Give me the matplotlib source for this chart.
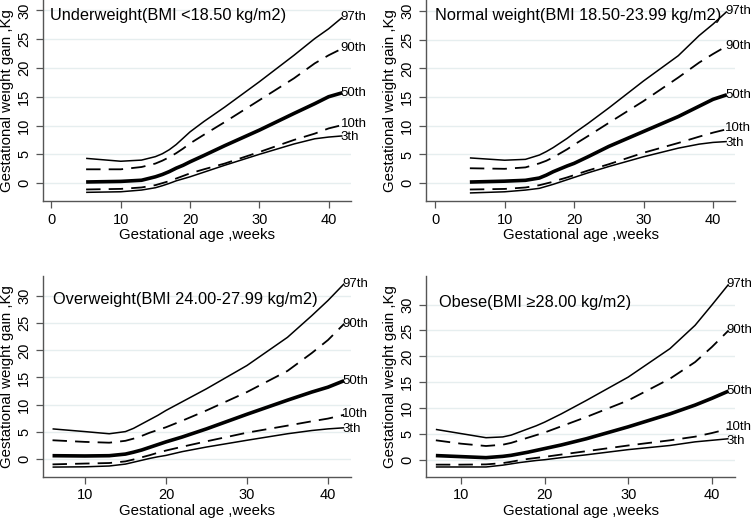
import numpy as np
import matplotlib.pyplot as plt

plt.rcParams['font.family'] = ['Liberation Sans', 'DejaVu Sans']

# read points of each percentile curve (weeks, kg)
weeks_a = [5, 10, 13, 15, 16, 17, 18, 19, 20, 22, 25, 30, 35, 38, 40, 42]
weeks_ow = [6, 10, 13, 15, 16, 17, 18, 19, 20, 22, 25, 30, 35, 38, 40, 42]
weeks_ob = [7, 10, 13, 15, 16, 17, 18, 19, 20, 22, 25, 30, 35, 38, 40, 42]

under_p97 = [4.3, 3.8, 4.0, 4.6, 5.1, 5.8, 6.7, 7.8, 8.9, 10.7, 13.2, 17.6, 22.2, 25.1, 26.8, 28.8]
under_p90 = [2.4, 2.4, 2.8, 3.4, 3.9, 4.5, 5.2, 6.0, 6.9, 8.4, 10.6, 14.4, 18.2, 20.8, 22.2, 23.4]
under_p50 = [0.2, 0.3, 0.5, 1.1, 1.5, 2.0, 2.6, 3.1, 3.7, 4.8, 6.5, 9.2, 12.1, 13.8, 15.0, 15.7]
under_p10 = [-1.1, -1.0, -0.75, -0.35, 0.0, 0.35, 0.8, 1.25, 1.7, 2.4, 3.4, 5.4, 7.5, 8.6, 9.5, 10.1]
under_p3 = [-1.6, -1.5, -1.2, -0.8, -0.45, -0.05, 0.4, 0.75, 1.1, 1.9, 3.1, 5.0, 6.8, 7.7, 8.0, 8.2]

normal_p97 = [4.4, 4.0, 4.15, 4.9, 5.5, 6.2, 7.0, 7.8, 8.7, 10.4, 13.1, 17.8, 22.2, 25.7, 27.7, 29.9]
normal_p90 = [2.6, 2.5, 2.75, 3.45, 3.9, 4.5, 5.2, 5.9, 6.7, 8.2, 10.5, 14.3, 18.4, 21.0, 22.5, 23.9]
normal_p50 = [0.2, 0.35, 0.5, 0.9, 1.4, 2.0, 2.5, 3.0, 3.45, 4.6, 6.4, 9.0, 11.6, 13.4, 14.6, 15.4]
normal_p10 = [-1.1, -1.0, -0.75, -0.35, -0.05, 0.25, 0.65, 1.0, 1.4, 2.2, 3.3, 5.3, 7.0, 8.1, 8.8, 9.4]
normal_p3 = [-1.7, -1.5, -1.2, -0.9, -0.55, -0.2, 0.2, 0.6, 1.0, 1.8, 2.9, 4.6, 6.1, 6.8, 7.1, 7.25]

over_p97 = [5.5, 5.0, 4.6, 5.0, 5.6, 6.4, 7.2, 8.0, 8.9, 10.5, 12.9, 17.2, 22.4, 26.4, 29.2, 32.3]
over_p90 = [3.4, 3.1, 2.95, 3.3, 3.7, 4.2, 4.8, 5.3, 5.8, 7.0, 8.9, 12.3, 16.2, 19.5, 21.9, 24.9]
over_p50 = [0.55, 0.5, 0.55, 0.85, 1.2, 1.6, 2.1, 2.6, 3.1, 4.0, 5.5, 8.2, 10.8, 12.3, 13.2, 14.4]
over_p10 = [-1.05, -0.9, -0.8, -0.5, -0.15, 0.25, 0.65, 1.1, 1.5, 2.2, 3.2, 4.8, 6.1, 6.9, 7.4, 8.1]
over_p3 = [-1.55, -1.5, -1.35, -1.0, -0.65, -0.3, 0.05, 0.35, 0.6, 1.3, 2.15, 3.4, 4.6, 5.2, 5.5, 5.7]

obese_p97 = [5.9, 5.1, 4.3, 4.45, 4.8, 5.4, 6.0, 6.6, 7.3, 8.9, 11.5, 16.0, 21.5, 26.0, 29.9, 33.9]
obese_p90 = [3.8, 3.15, 2.7, 2.95, 3.3, 3.8, 4.3, 4.8, 5.3, 6.5, 8.3, 11.5, 15.7, 18.9, 21.8, 25.0]
obese_p50 = [0.85, 0.65, 0.45, 0.7, 0.9, 1.2, 1.5, 1.85, 2.2, 2.9, 4.1, 6.4, 8.9, 10.6, 11.9, 13.3]
obese_p10 = [-0.9, -0.9, -0.85, -0.6, -0.35, -0.05, 0.2, 0.4, 0.6, 1.05, 1.7, 2.8, 3.8, 4.5, 5.2, 6.0]
obese_p3 = [-1.35, -1.35, -1.35, -1.0, -0.75, -0.5, -0.3, -0.1, 0.05, 0.45, 1.0, 2.0, 2.8, 3.5, 3.8, 4.1]

pct_labels = ['97th', '90th', '50th', '10th', '3th']

panels = [
    ('Underweight(BMI <18.50 kg/m2)', weeks_a,
     [under_p97, under_p90, under_p50, under_p10, under_p3]),
    ('Normal weight(BMI 18.50-23.99 kg/m2)', weeks_a,
     [normal_p97, normal_p90, normal_p50, normal_p10, normal_p3]),
    ('Overweight(BMI 24.00-27.99 kg/m2)', weeks_ow,
     [over_p97, over_p90, over_p50, over_p10, over_p3]),
    ('Obese(BMI \u226528.00 kg/m2)', weeks_ob,
     [obese_p97, obese_p90, obese_p50, obese_p10, obese_p3]),
]

# axes boxes in figure fraction, limits and title spots
boxes = [[0.057, 0.612, 0.411, 0.388], [0.567, 0.612, 0.412, 0.388],
         [0.057, 0.080, 0.411, 0.388], [0.567, 0.080, 0.412, 0.388]]
xlims = [(-1.25, 43.3), (-1.34, 43.2), (4.8, 42.9), (5.8, 42.8)]
ylims = [(-3.1, 31.8), (-3.1, 31.9), (-3.3, 33.8), (-3.2, 35.6)]
xticks = [[0, 10, 20, 30, 40], [0, 10, 20, 30, 40], [10, 20, 30, 40], [10, 20, 30, 40]]
title_pos = [(0.023, 0.925), (0.03, 0.925), (0.034, 0.88), (0.043, 0.868)]
# small vertical nudges of the end labels (kg), where they crowd
label_nudge = [[0, 0, 0, 0.1, -0.2], [0, 0, 0, 0.2, -0.2],
               [0, 0, 0, 0.2, -0.2], [0, 0, 0, 0.4, -0.5]]

styles = [dict(lw=1.1, ls='-'), dict(lw=1.3, ls=(0, (8, 4.5))),
          dict(lw=2.6, ls='-'), dict(lw=1.3, ls=(0, (8, 4.5))),
          dict(lw=1.1, ls='-')]

fig = plt.figure(figsize=(7.51, 5.18), dpi=100)

for i, (title, weeks, curves) in enumerate(panels):
    ax = fig.add_axes(boxes[i])
    for k, (vals, lab, st) in enumerate(zip(curves, pct_labels, styles)):
        ax.plot(weeks, vals, color='black', solid_capstyle='butt', **st)
        ax.text(weeks[-1] - 0.25, vals[-1] + label_nudge[i][k], lab,
                fontsize=9.5, ha='left', va='center')
    ax.set_xlim(*xlims[i])
    ax.set_ylim(*ylims[i])
    ax.set_xticks(xticks[i])
    ax.set_yticks([0, 5, 10, 15, 20, 25, 30])
    ax.grid(axis='y', color='#e6eeef', lw=1.0)
    ax.set_axisbelow(True)
    for s in ['top', 'right']:
        ax.spines[s].set_visible(False)
    for s in ['left', 'bottom']:
        ax.spines[s].set_color('#555555')
        ax.spines[s].set_linewidth(1.0)
    ax.tick_params(direction='out', length=5, width=0.9, color='#555555', labelsize=10.5)
    for t in ax.get_yticklabels():
        t.set_rotation(90)
        t.set_va('center')
    ax.set_xlabel('Gestational age ,weeks', fontsize=10.8, labelpad=1)
    ax.set_ylabel('Gestational weight gain ,Kg', fontsize=10.8, labelpad=2)
    ax.text(title_pos[i][0], title_pos[i][1], title, transform=ax.transAxes,
            fontsize=11.8, ha='left', va='center')

fig.savefig('out.png', dpi=100)
